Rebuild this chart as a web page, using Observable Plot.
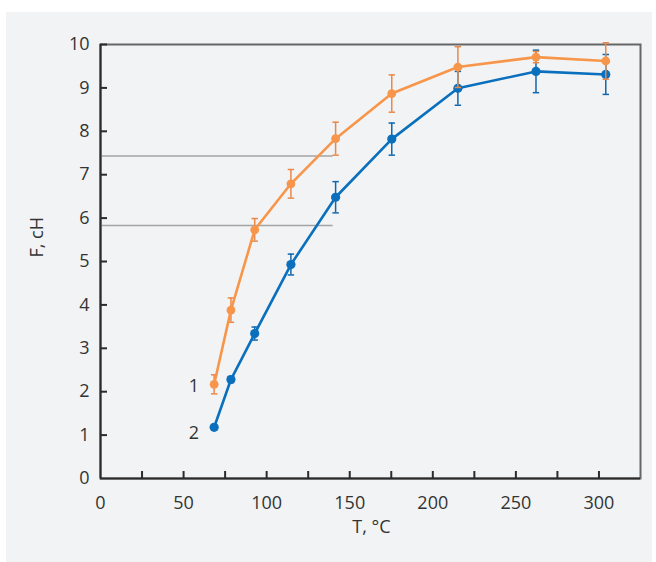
<!DOCTYPE html>
<html>
<head>
<meta charset="utf-8">
<script src="https://cdn.jsdelivr.net/npm/d3@7"></script>
<script src="https://cdn.jsdelivr.net/npm/@observablehq/plot@0.6"></script>
<style>
  html, body { margin: 0; padding: 0; background: #ffffff; }
  #panel { position: absolute; left: 6px; top: 12px; width: 646px; height: 550px; background: #f2f3f5; }
  #panel svg { display: block; }
</style>
</head>
<body>
<div id="panel"></div>
<script>
// Temperature, °C (shared by both series)
const T = [68.4, 78.5, 92.8, 114.6, 141.5, 175.3, 215.1, 262.1, 304.1];
// Series 1 (orange): force, cN, and error half-widths
const F1 = [2.17, 3.88, 5.73, 6.79, 7.83, 8.87, 9.48, 9.71, 9.62];
const E1 = [0.22, 0.28, 0.26, 0.33, 0.38, 0.43, 0.47, 0.13, 0.42];
// Series 2 (blue)
const F2 = [1.18, 2.28, 3.34, 4.93, 6.48, 7.82, 8.99, 9.38, 9.31];
const E2 = [0.06, 0.07, 0.15, 0.24, 0.36, 0.37, 0.39, 0.49, 0.46];
const seriesNames = ["1", "2"];
// Horizontal reference levels
const refLevels = [7.43, 5.83];
const refEndT = 140;
// Axis ticks
const xTickLabels = [0, 50, 100, 150, 200, 250, 300];
const xTickMarks = [25, 50, 75, 100, 125, 150, 175, 200, 225, 250, 275, 300];
const yTickLabels = [0, 1, 2, 3, 4, 5, 6, 7, 8, 9, 10];
const yTickMarks = [1, 2, 3, 4, 5, 6, 7, 8, 9, 10];

const orange = "#f7964a";
const orangeErr = "#e8894a";
const blue = "#0a70bd";
const blueErr = "#1168ad";
const textColor = "#333333";

const s1 = T.map((t, i) => ({T: t, F: F1[i], E: E1[i]}));
const s2 = T.map((t, i) => ({T: t, F: F2[i], E: E2[i]}));

const capSymbol = {
  draw(ctx, size) {
    const w = Math.sqrt(size / Math.PI);
    ctx.moveTo(-w, 0);
    ctx.lineTo(w, 0);
  }
};

function seriesMarks(data, color, errColor, r) {
  return [
    Plot.ruleX(data, {x: "T", y1: d => d.F - d.E, y2: d => d.F + d.E, stroke: errColor, strokeWidth: 1.5}),
    Plot.dot(data, {x: "T", y: d => d.F - d.E, symbol: capSymbol, r: 3.2, stroke: errColor, strokeWidth: 1.5, fill: "none"}),
    Plot.dot(data, {x: "T", y: d => d.F + d.E, symbol: capSymbol, r: 3.2, stroke: errColor, strokeWidth: 1.5, fill: "none"}),
    Plot.line(data, {x: "T", y: "F", stroke: color, strokeWidth: 2.6, curve: "linear"}),
    Plot.dot(data, {x: "T", y: "F", r: r, fill: color, stroke: "none"})
  ];
}

const chart = Plot.plot({
  width: 646,
  height: 550,
  marginLeft: 94,
  marginRight: 12,
  marginTop: 32,
  marginBottom: 84,
  style: {background: "transparent", fontFamily: "'Open Sans', sans-serif", fontSize: "18px", color: textColor},
  x: {domain: [0, 325]},
  y: {domain: [0, 10]},
  marks: [
    Plot.frame({stroke: "#666666", strokeWidth: 2}),
    Plot.ruleY(refLevels, {x1: 0, x2: refEndT, stroke: "#a3a3a3", strokeWidth: 1.5}),
    ...seriesMarks(s2, blue, blueErr, 4.6),
    ...seriesMarks(s1, orange, orangeErr, 4.4),
    Plot.ruleX([0], {stroke: "#2b2b2b", strokeWidth: 2}),
    Plot.ruleY([0], {stroke: "#2b2b2b", strokeWidth: 2}),
    Plot.tickX(xTickMarks, {x: d => d, insetTop: 427, stroke: "#2b2b2b", strokeWidth: 2}),
    Plot.tickY(yTickMarks, {y: d => d, insetRight: 533, stroke: "#2b2b2b", strokeWidth: 2}),
    Plot.axisX({ticks: xTickLabels, tickSize: 0, tickPadding: 18, label: null, fontSize: 18}),
    Plot.axisY({ticks: yTickLabels, tickSize: 0, tickPadding: 11, label: null, fontSize: 18}),
    Plot.text(["T, °C"], {frameAnchor: "bottom", dy: 54, dx: 1, fontSize: 18, fill: textColor}),
    Plot.text(["F, cH"], {frameAnchor: "left", rotate: -90, dx: -63, dy: -4, fontSize: 18, fill: textColor}),
    Plot.text([s1[0]], {x: "T", y: "F", text: () => seriesNames[0], dx: -15, dy: 2, textAnchor: "end", fontSize: 18, fill: textColor}),
    Plot.text([s2[0]], {x: "T", y: "F", text: () => seriesNames[1], dx: -15, dy: 6, textAnchor: "end", fontSize: 18, fill: textColor})
  ]
});
document.getElementById("panel").appendChild(chart);
</script>
</body>
</html>
